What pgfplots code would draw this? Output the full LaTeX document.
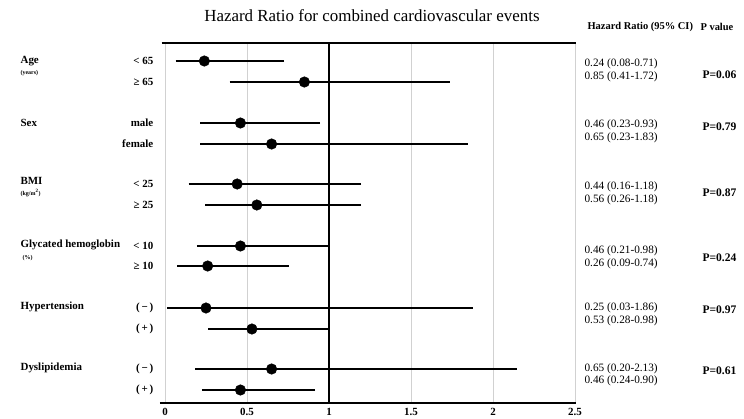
\documentclass[border=0pt]{standalone}
\usepackage{pgfplots}
\pgfplotsset{compat=1.18}
\usepackage{pgfplotstable}
\usepackage{fontspec}
\setmainfont{Liberation Serif}

% y = row position (px from top), hr = hazard ratio, lo/hi = 95% CI
\pgfplotstableread{
y   hr    lo    hi
61  0.24  0.08  0.71
82  0.85  0.41  1.72
123 0.46  0.23  0.93
144 0.65  0.23  1.83
184 0.44  0.16  1.18
205 0.56  0.26  1.18
246 0.46  0.21  0.98
266 0.26  0.09  0.74
308 0.25  0.03  1.86
329 0.53  0.28  0.98
369 0.65  0.20  2.13
390 0.46  0.24  0.90
}\hrdata

\newcommand{\lab}{\bfseries\fontsize{11}{12}\selectfont}
\newcommand{\unit}{\bfseries\fontsize{6}{7}\selectfont}
\newcommand{\ci}{\fontsize{11.3}{12}\selectfont}
\newcommand{\pv}{\bfseries\fontsize{11.6}{12}\selectfont}

\begin{document}
\begin{tikzpicture}
\begin{axis}[
    x=164bp, y=1bp,
    y dir=reverse,
    xmin=0, xmax=2.5, ymin=43, ymax=403,
    clip=false,
    hide y axis,
    axis x line*=bottom,
    x axis line style={line width=2.4bp, shorten <=-5bp, shorten >=-1bp},
    xtick={0,0.5,1,1.5,2,2.5},
    xticklabels={0,0.5,1,1.5,2,2.5},
    xtick style={draw=none},
    xticklabel style={font=\bfseries\fontsize{11}{12}\selectfont, anchor=base, inner sep=0pt, yshift=-12bp},
    xmajorgrids,
    grid style={black!18, line width=0.9bp},
]
% bounding box = full picture
\path (axis cs:-1.0061,0) rectangle (axis cs:3.5305,419);

\draw[line width=2.4bp] (axis cs:-0.02,43) -- (axis cs:2.505,43);
\draw[line width=2bp] (axis cs:1,43) -- (axis cs:1,403);

\addplot[only marks, mark=*, mark size=5.3bp, black,
    error bars/.cd, x dir=both, x explicit,
    error bar style={line width=1.8bp, black},
    error mark options={line width=1.2bp, mark size=2.6bp, black}]
    table[x=hr, y=y,
          x error plus expr=\thisrow{hi}-\thisrow{hr},
          x error minus expr=\thisrow{hr}-\thisrow{lo}] {\hrdata};

% title and headers
\node[font=\fontsize{17}{19}\selectfont] at (axis cs:1.262,16) {Hazard Ratio for combined cardiovascular events};
\node[anchor=west, font=\bfseries\fontsize{10.5}{12}\selectfont] at (axis cs:2.555,27) {Hazard Ratio (95\% CI)};
\node[anchor=west, font=\bfseries\fontsize{10.5}{12}\selectfont] at (axis cs:3.244,27) {P value};

% group labels
\node[anchor=west, font=\lab] at (axis cs:-0.902,61) {Age};
\node[anchor=west, font=\unit] at (axis cs:-0.902,73) {(years)};
\node[anchor=west, font=\lab] at (axis cs:-0.902,123) {Sex};
\node[anchor=west, font=\lab] at (axis cs:-0.902,181) {BMI};
\node[anchor=west, font=\unit] at (axis cs:-0.902,193) {(kg/m\textsuperscript{2})};
\node[anchor=west, font=\lab] at (axis cs:-0.902,245) {Glycated hemoglobin};
\node[anchor=west, font=\unit] at (axis cs:-0.89,258) {(\%)};
\node[anchor=west, font=\lab] at (axis cs:-0.902,307) {Hypertension};
\node[anchor=west, font=\lab] at (axis cs:-0.902,368) {Dyslipidemia};

% subgroup labels
\node[anchor=east, font=\lab] at (axis cs:-0.05,61) {< 65};
\node[anchor=east, font=\lab] at (axis cs:-0.05,82) {≥ 65};
\node[anchor=east, font=\lab] at (axis cs:-0.05,123) {male};
\node[anchor=east, font=\lab] at (axis cs:-0.05,144) {female};
\node[anchor=east, font=\lab] at (axis cs:-0.05,184) {< 25};
\node[anchor=east, font=\lab] at (axis cs:-0.05,205) {≥ 25};
\node[anchor=east, font=\lab] at (axis cs:-0.05,246) {< 10};
\node[anchor=east, font=\lab] at (axis cs:-0.05,266) {≥ 10};
\node[anchor=east, font=\lab] at (axis cs:-0.05,308) {(\,−\,)};
\node[anchor=east, font=\lab] at (axis cs:-0.05,329) {(\,+\,)};
\node[anchor=east, font=\lab] at (axis cs:-0.05,369) {(\,−\,)};
\node[anchor=east, font=\lab] at (axis cs:-0.05,390) {(\,+\,)};

% hazard ratio text
\node[anchor=west, font=\ci] at (axis cs:2.537,64) {0.24 (0.08-0.71)};
\node[anchor=west, font=\ci] at (axis cs:2.537,76.5) {0.85 (0.41-1.72)};
\node[anchor=west, font=\ci] at (axis cs:2.537,125) {0.46 (0.23-0.93)};
\node[anchor=west, font=\ci] at (axis cs:2.537,137.5) {0.65 (0.23-1.83)};
\node[anchor=west, font=\ci] at (axis cs:2.537,186.7) {0.44 (0.16-1.18)};
\node[anchor=west, font=\ci] at (axis cs:2.537,199.3) {0.56 (0.26-1.18)};
\node[anchor=west, font=\ci] at (axis cs:2.537,250.7) {0.46 (0.21-0.98)};
\node[anchor=west, font=\ci] at (axis cs:2.537,263.3) {0.26 (0.09-0.74)};
\node[anchor=west, font=\ci] at (axis cs:2.537,308) {0.25 (0.03-1.86)};
\node[anchor=west, font=\ci] at (axis cs:2.537,320.7) {0.53 (0.28-0.98)};
\node[anchor=west, font=\ci] at (axis cs:2.537,369) {0.65 (0.20-2.13)};
\node[anchor=west, font=\ci] at (axis cs:2.537,380.7) {0.46 (0.24-0.90)};

% p values
\node[anchor=west, font=\pv] at (axis cs:3.256,75) {P=0.06};
\node[anchor=west, font=\pv] at (axis cs:3.256,127) {P=0.79};
\node[anchor=west, font=\pv] at (axis cs:3.256,192.7) {P=0.87};
\node[anchor=west, font=\pv] at (axis cs:3.256,257.3) {P=0.24};
\node[anchor=west, font=\pv] at (axis cs:3.256,310) {P=0.97};
\node[anchor=west, font=\pv] at (axis cs:3.256,371) {P=0.61};
\end{axis}
\end{tikzpicture}
\end{document}
